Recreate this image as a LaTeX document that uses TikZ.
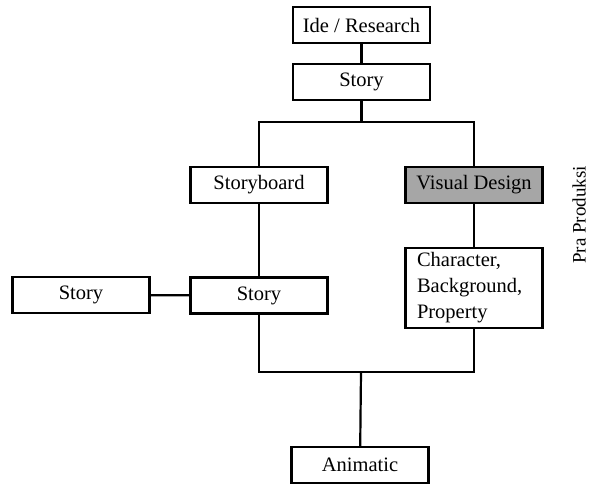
\documentclass[tikz,border=0pt]{standalone}
\usepackage{fontspec}
\setmainfont{Liberation Serif}
\definecolor{boxgray}{RGB}{166,166,166}
\begin{document}
\begin{tikzpicture}[x=1pt,y=-1pt,
  box/.style={draw=black,line width=2.2pt,fill=white,minimum width=137pt,minimum height=36pt,inner sep=0pt,font=\fontsize{20.5}{26}\selectfont},
  conn/.style={line width=2.2pt}]
\useasboundingbox (0,0) rectangle (592,485);
\node[box] (ide) at (361.5,25) {Ide / Research};
\node[box] (story1) at (361.5,82) {Story};
\node[box] (sb) at (259,185) {Storyboard};
\node[box,fill=boxgray] (vd) at (474,185) {Visual Design};
\node[box,minimum height=80pt,align=left,text width=114pt] (cbp) at (474,288) {Character,\\Background,\\Property};
\node[box] (story2) at (259,295.5) {Story};
\node[box] (story3) at (81,295) {Story};
\node[box] (anim) at (360,465) {Animatic};
\coordinate (top) at (361.5,122);
\coordinate (bot) at (361,372);
\draw[conn] (ide) -- (story1);
\draw[conn] (story1) -- (top);
\draw[conn] (sb.north) |- (top) -| (vd.north);
\draw[conn] (sb) -- (story2);
\draw[conn] (vd) -- (cbp);
\draw[conn] (story3) -- (story2);
\draw[conn] (story2.south) |- (bot) -| (cbp.south);
\draw[conn] (bot) -- (anim);
\node[rotate=90,font=\fontsize{19}{22}\selectfont] (pra) at (579,215) {Pra Produksi};
\end{tikzpicture}
\end{document}
